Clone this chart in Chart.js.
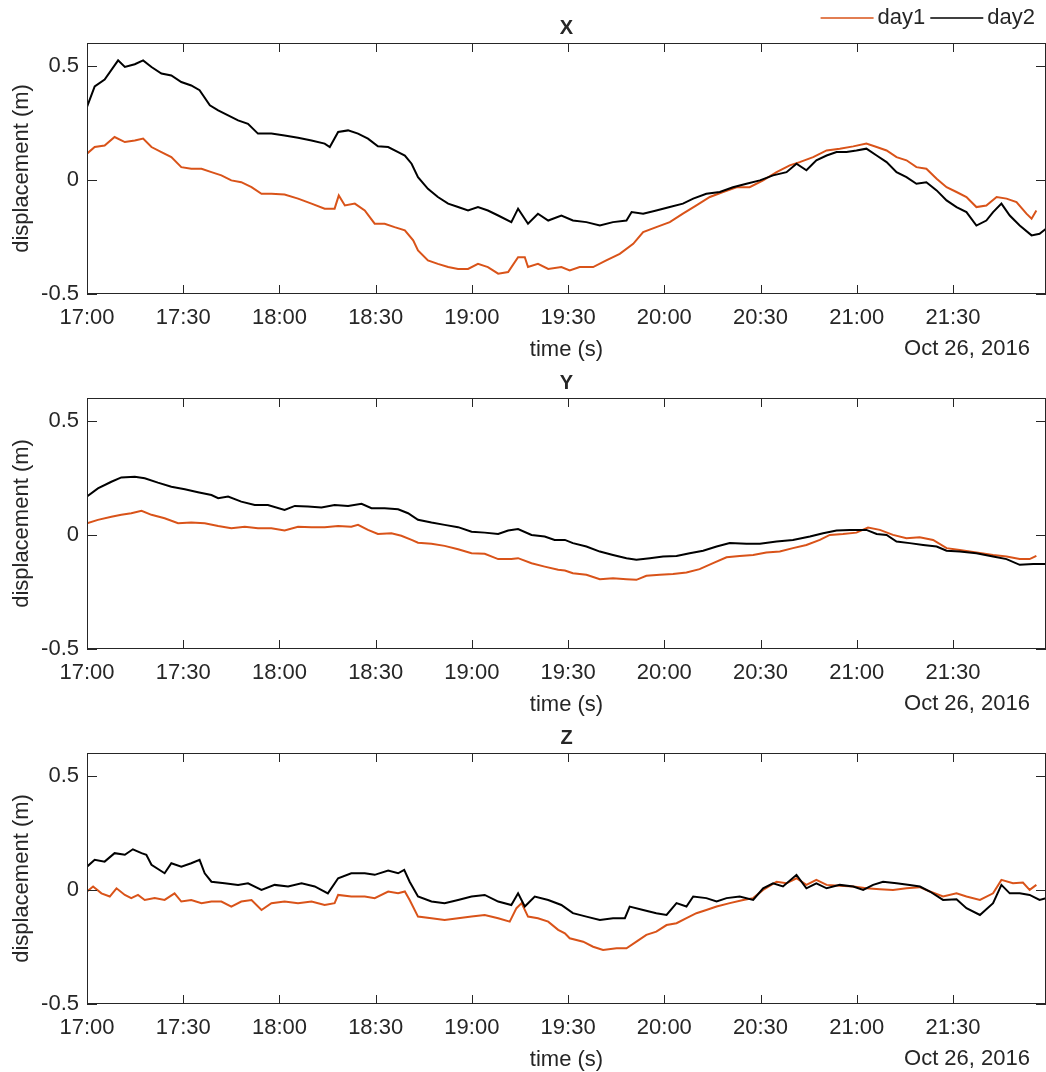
<!DOCTYPE html>
<html>
<head>
<meta charset="utf-8">
<script src="https://cdn.jsdelivr.net/npm/chart.js@4.4.0/dist/chart.umd.min.js"></script>
<style>
  html, body { margin: 0; padding: 0; background: #fff; overflow: hidden; }
  body { width: 1046px; height: 1072px; position: relative; }
  .panel { position: absolute; left: 0; width: 1046px; height: 363px; }
</style>
</head>
<body>
<div class="panel" style="top:0px"><canvas id="cX" width="1046" height="363"></canvas></div>
<div class="panel" style="top:355px"><canvas id="cY" width="1046" height="363"></canvas></div>
<div class="panel" style="top:710px"><canvas id="cZ" width="1046" height="363"></canvas></div>
<script>
// time is minutes after 17:00 on Oct 26, 2016
const xTicks = [0, 30, 60, 90, 120, 150, 180, 210, 240, 270];
const xTickLabels = ['17:00', '17:30', '18:00', '18:30', '19:00', '19:30', '20:00', '20:30', '21:00', '21:30'];
const yTicks = [-0.5, 0, 0.5];
const yTickLabels = ['-0.5', '0', '0.5'];
const dateLabel = 'Oct 26, 2016';
const seriesNames = ['day1', 'day2'];

// X displacement
const xDay1 = [[0,0.115],[2.4,0.144],[5.5,0.151],[8.6,0.188],[11.8,0.166],[14.9,0.173],[17.5,0.181],[20.1,0.144],[23.2,0.122],[26.3,0.1],[29.4,0.056],[32.5,0.049],[35.7,0.049],[38.8,0.034],[41.9,0.02],[45,-0.002],[48.1,-0.01],[51.3,-0.032],[54.4,-0.061],[57.5,-0.061],[61.6,-0.064],[65.8,-0.082],[70,-0.104],[74.1,-0.126],[77.2,-0.126],[78.5,-0.068],[80.4,-0.112],[83.5,-0.104],[86.6,-0.134],[89.7,-0.192],[92.8,-0.192],[95.9,-0.207],[99.1,-0.221],[101.7,-0.265],[103.2,-0.309],[106.3,-0.353],[109.4,-0.368],[112.6,-0.382],[115.7,-0.39],[118.8,-0.39],[121.9,-0.368],[125,-0.382],[128.2,-0.411],[131.3,-0.404],[134.4,-0.339],[136.5,-0.339],[137.5,-0.382],[140.6,-0.368],[143.8,-0.39],[147.9,-0.382],[150.5,-0.397],[153.6,-0.382],[157.8,-0.382],[161.9,-0.353],[166.1,-0.324],[170.3,-0.28],[173.4,-0.229],[177.5,-0.207],[181.7,-0.185],[185.8,-0.148],[190,-0.112],[194.2,-0.075],[198.3,-0.053],[202.5,-0.032],[206.6,-0.032],[210.8,-0.002],[215,0.034],[219.1,0.064],[222.2,0.078],[226.4,0.1],[230.6,0.129],[234.7,0.137],[238.9,0.147],[243,0.159],[246.2,0.144],[249.3,0.129],[252.4,0.1],[255.5,0.086],[258.6,0.056],[261.7,0.049],[264.9,0.005],[268,-0.032],[271.1,-0.053],[274.2,-0.075],[277.3,-0.119],[280.4,-0.112],[283.6,-0.075],[286.7,-0.082],[289.8,-0.097],[292.9,-0.148],[294.5,-0.17],[296,-0.134]];
const xDay2 = [[0,0.32],[2.4,0.41],[5.5,0.44],[9.7,0.524],[11.8,0.495],[14.9,0.507],[17.5,0.524],[20.1,0.495],[23.2,0.466],[26.3,0.458],[29.4,0.429],[32.5,0.414],[35.1,0.393],[38.3,0.327],[40.9,0.305],[44,0.283],[47.1,0.261],[50.2,0.246],[53.3,0.203],[57.5,0.203],[61.6,0.195],[65.8,0.185],[70,0.173],[74.1,0.159],[75.7,0.144],[78.3,0.21],[81.4,0.217],[84.5,0.203],[87.6,0.181],[90.7,0.147],[93.9,0.144],[97,0.122],[99.1,0.107],[101.2,0.071],[103.2,0.012],[106.3,-0.039],[109.4,-0.075],[112.6,-0.104],[115.7,-0.119],[118.8,-0.134],[121.9,-0.119],[125,-0.134],[128.2,-0.156],[132.3,-0.185],[134.4,-0.126],[137.5,-0.192],[140.6,-0.148],[143.8,-0.178],[147.9,-0.156],[151.5,-0.178],[155.7,-0.185],[159.9,-0.2],[164,-0.185],[168.2,-0.178],[169.8,-0.141],[173.4,-0.148],[177.5,-0.134],[181.7,-0.119],[185.8,-0.104],[189,-0.082],[193.1,-0.061],[197.3,-0.053],[201.4,-0.032],[205.6,-0.017],[209.8,-0.002],[213.9,0.02],[218.1,0.034],[221.2,0.071],[224.3,0.042],[227.4,0.086],[230.6,0.107],[233.7,0.122],[236.8,0.122],[239.9,0.129],[243,0.137],[246.2,0.107],[249.3,0.078],[252.4,0.034],[255.5,0.012],[258.6,-0.017],[261.7,-0.01],[264.9,-0.046],[268,-0.09],[271.1,-0.119],[274.2,-0.141],[277.3,-0.2],[280.4,-0.178],[282.5,-0.141],[285.1,-0.104],[287.7,-0.156],[290.8,-0.2],[294.5,-0.243],[297,-0.236],[299,-0.214]];

// Y displacement
const yDay1 = [[0,0.051],[3.4,0.066],[7.6,0.08],[10.7,0.088],[13.8,0.095],[17,0.106],[20.1,0.088],[24.2,0.073],[28.4,0.051],[32.5,0.054],[36.7,0.051],[40.9,0.039],[45,0.029],[49.2,0.036],[53.3,0.029],[57.5,0.029],[61.6,0.019],[65.8,0.036],[70,0.034],[74.1,0.034],[78.3,0.039],[82.4,0.036],[84.5,0.044],[87.6,0.022],[90.7,0.004],[94.9,0.007],[98,-0.004],[101.2,-0.022],[103.2,-0.034],[107.4,-0.039],[111.5,-0.048],[115.7,-0.063],[119.9,-0.08],[124,-0.083],[128.2,-0.106],[132.3,-0.106],[134.4,-0.102],[138.6,-0.124],[142.7,-0.139],[146.9,-0.153],[149,-0.156],[151.5,-0.168],[155.7,-0.175],[159.9,-0.194],[164,-0.19],[168.2,-0.194],[171.3,-0.197],[174.4,-0.179],[178.6,-0.175],[182.7,-0.171],[186.9,-0.165],[191,-0.15],[195.2,-0.124],[199.4,-0.098],[203.5,-0.092],[207.7,-0.088],[211.8,-0.077],[216,-0.073],[220.1,-0.058],[224.3,-0.044],[228.5,-0.022],[231.6,0],[235.7,0.004],[239.9,0.01],[243.5,0.032],[247.2,0.022],[251.3,0],[255.5,-0.015],[259.6,-0.01],[263.8,-0.022],[268,-0.058],[272.1,-0.066],[277.3,-0.077],[282.5,-0.088],[286.7,-0.095],[290.8,-0.106],[293.9,-0.106],[296,-0.092]];
const yDay2 = [[0,0.168],[3.4,0.204],[7.6,0.233],[10.7,0.252],[14.9,0.255],[18,0.248],[22.1,0.229],[26.3,0.211],[30.5,0.2],[34.6,0.187],[38.8,0.175],[40.9,0.161],[44,0.168],[48.1,0.146],[52.3,0.131],[56.4,0.131],[61.6,0.109],[64.8,0.127],[68.9,0.124],[73.1,0.12],[77.2,0.131],[81.4,0.127],[85.6,0.136],[88.7,0.117],[92.8,0.117],[97,0.112],[100.1,0.095],[103.2,0.066],[107.4,0.054],[111.5,0.044],[115.7,0.034],[119.9,0.014],[124,0.01],[128.2,0.004],[131.3,0.019],[134.4,0.026],[138.6,0],[142.7,-0.007],[145.8,-0.022],[149,-0.022],[151.5,-0.036],[155.7,-0.051],[159.9,-0.073],[164,-0.088],[168.2,-0.102],[171.3,-0.109],[175.5,-0.102],[179.6,-0.095],[183.8,-0.092],[187.9,-0.08],[192.1,-0.069],[196.3,-0.051],[200.4,-0.036],[205.6,-0.039],[209.8,-0.039],[215,-0.029],[220.1,-0.022],[225.4,-0.007],[229.5,0.007],[233.7,0.019],[237.8,0.022],[243,0.022],[246.2,0.004],[249.3,0],[252.4,-0.029],[256.5,-0.036],[260.7,-0.044],[264.9,-0.051],[268,-0.069],[272.1,-0.073],[277.3,-0.08],[282.5,-0.095],[286.7,-0.106],[290.8,-0.131],[295,-0.128],[299,-0.128]];

// Z displacement
const zDay1 = [[0,-0.007],[1.9,0.015],[4.5,-0.015],[7.1,-0.029],[9.2,0.007],[11.8,-0.022],[13.8,-0.036],[15.9,-0.022],[18,-0.044],[21.1,-0.036],[24.2,-0.044],[27.3,-0.015],[29.4,-0.051],[32.5,-0.044],[35.7,-0.058],[38.8,-0.051],[41.9,-0.051],[45,-0.073],[48.1,-0.051],[51.3,-0.044],[54.4,-0.088],[57.5,-0.058],[61.6,-0.051],[65.8,-0.058],[70,-0.051],[74.1,-0.066],[77.2,-0.058],[78.3,-0.022],[82.4,-0.029],[86.6,-0.029],[89.7,-0.036],[93.9,-0.007],[97,-0.015],[99.1,-0.007],[100.6,-0.044],[103.2,-0.117],[107.4,-0.124],[111.5,-0.132],[115.7,-0.124],[119.9,-0.117],[124,-0.11],[128.2,-0.124],[131.8,-0.139],[133.9,-0.08],[135.5,-0.058],[137.5,-0.117],[140.6,-0.124],[143.8,-0.139],[146.9,-0.175],[149,-0.19],[150.5,-0.212],[154.7,-0.227],[157.8,-0.249],[160.9,-0.263],[165.1,-0.256],[168.2,-0.256],[171.3,-0.227],[174.4,-0.197],[177.5,-0.183],[180.7,-0.154],[183.8,-0.146],[186.9,-0.124],[190,-0.102],[193.1,-0.088],[196.3,-0.073],[200.4,-0.058],[204.6,-0.044],[207.7,-0.036],[210.8,0],[215,0.036],[218.1,0.029],[221.2,0.051],[224.3,0.022],[227.4,0.044],[230.6,0.022],[234.7,0.018],[238.9,0.015],[243,0.007],[247.2,0.003],[251.3,0],[255.5,0.007],[259.6,0.012],[262.8,-0.007],[266.9,-0.029],[271.1,-0.015],[274.2,-0.029],[278.4,-0.044],[282.5,-0.015],[285.1,0.044],[288.7,0.029],[291.8,0.032],[293.9,0],[296,0.022]];
const zDay2 = [[0,0.102],[2.4,0.132],[5.5,0.124],[8.6,0.161],[11.8,0.154],[14.3,0.178],[17,0.161],[18.5,0.154],[20.1,0.11],[24.2,0.073],[26.3,0.117],[29.4,0.102],[32.5,0.117],[35.1,0.132],[36.7,0.073],[38.8,0.036],[42.9,0.029],[47.1,0.022],[50.2,0.029],[54.4,0],[58.5,0.022],[62.7,0.015],[66.9,0.029],[71,0.015],[75.1,-0.015],[78.3,0.051],[82.4,0.073],[86.6,0.073],[89.7,0.066],[93.9,0.085],[97,0.073],[98.9,0.088],[100.6,0.036],[103.2,-0.029],[107.4,-0.051],[111.5,-0.058],[115.7,-0.044],[119.9,-0.029],[124,-0.022],[128.2,-0.051],[132.3,-0.066],[134.4,-0.015],[136.5,-0.073],[139.6,-0.029],[143.8,-0.044],[147.9,-0.066],[151.5,-0.102],[155.7,-0.117],[159.9,-0.132],[164,-0.124],[167.7,-0.124],[169.2,-0.073],[173.4,-0.088],[177.5,-0.102],[180.7,-0.11],[183.8,-0.058],[186.9,-0.073],[189,-0.029],[193.1,-0.036],[196.3,-0.051],[199.4,-0.036],[203.5,-0.029],[207.7,-0.044],[210.8,0.007],[213.9,0.029],[217,0.015],[221.2,0.066],[224.3,0.007],[227.4,0.029],[230.6,0.007],[234.7,0.022],[238.9,0.015],[242,0],[245.1,0.022],[248.2,0.036],[252.4,0.029],[256.5,0.022],[259.7,0.015],[262.8,-0.007],[266.9,-0.044],[271.1,-0.041],[274.2,-0.08],[278.4,-0.11],[282.5,-0.058],[285.1,0.022],[287.7,-0.015],[290.8,-0.015],[293.9,-0.022],[297,-0.044],[299,-0.036]];

const xMax = 299;
const yMin = -0.5, yMax = 0.6;
const day1Color = '#D95319';
const day2Color = '#000000';
const axisColor = '#262626';
const fontFamily = "'Liberation Sans', Arial, Helvetica, sans-serif";

Chart.defaults.font.family = fontFamily;
Chart.defaults.font.size = 22;
Chart.defaults.color = axisColor;

function toXY(pairs) {
  return pairs.map(p => ({ x: p[0], y: p[1] }));
}

// box, inward ticks on all four sides, panel title, date note and legend
const matlabAxes = {
  id: 'matlabAxes',
  afterDatasetsDraw(chart, args, opts) {
    const { ctx, chartArea: a, scales: { x, y } } = chart;
    ctx.save();
    ctx.strokeStyle = axisColor;
    ctx.lineWidth = 1;
    ctx.strokeRect(a.left + 0.5, a.top + 0.5, a.width - 1, a.height - 1);
    ctx.beginPath();
    xTicks.forEach(t => {
      const px = Math.round(x.getPixelForValue(t)) + 0.5;
      ctx.moveTo(px, a.bottom); ctx.lineTo(px, a.bottom - 9);
      ctx.moveTo(px, a.top); ctx.lineTo(px, a.top + 9);
    });
    yTicks.forEach(v => {
      const py = Math.round(y.getPixelForValue(v)) + 0.5;
      ctx.moveTo(a.left, py); ctx.lineTo(a.left + 10, py);
      ctx.moveTo(a.right, py); ctx.lineTo(a.right - 10, py);
    });
    ctx.stroke();

    ctx.fillStyle = axisColor;
    ctx.textBaseline = 'middle';
    ctx.textAlign = 'center';
    ctx.font = 'bold 20px ' + fontFamily;
    ctx.fillText(opts.title, (a.left + a.right) / 2, a.top - 15);

    ctx.font = '22px ' + fontFamily;
    ctx.textAlign = 'right';
    ctx.fillText(dateLabel, a.right - 16, a.bottom + 55);

    if (opts.legend) {
      ctx.textAlign = 'left';
      let xr = a.right - 11;
      const ly = 18;
      chart.data.datasets.slice().reverse().forEach(ds => {
        const w = ctx.measureText(ds.label).width;
        const tx = xr - w;
        ctx.fillStyle = axisColor;
        ctx.fillText(ds.label, tx, ly);
        ctx.strokeStyle = ds.borderColor;
        ctx.lineWidth = 1.5;
        ctx.beginPath();
        ctx.moveTo(tx - 57, ly); ctx.lineTo(tx - 4, ly);
        ctx.stroke();
        xr = tx - 62;
      });
    }
    ctx.restore();
  }
};

function makePanel(id, title, day1, day2, showLegend) {
  new Chart(document.getElementById(id), {
    type: 'line',
    data: {
      datasets: [
        { label: seriesNames[0], data: toXY(day1), borderColor: day1Color, borderWidth: 2, pointRadius: 0, order: 2 },
        { label: seriesNames[1], data: toXY(day2), borderColor: day2Color, borderWidth: 2, pointRadius: 0, order: 1 }
      ]
    },
    options: {
      responsive: false,
      animation: false,
      events: [],
      layout: { padding: { top: 43, left: 0, right: 0, bottom: 0 } },
      plugins: {
        legend: { display: false },
        tooltip: { enabled: false },
        matlabAxes: { title: title, legend: showLegend }
      },
      scales: {
        x: {
          type: 'linear',
          min: 0,
          max: xMax,
          afterBuildTicks: s => { s.ticks = xTicks.map(v => ({ value: v })); },
          afterFit: s => { s.height = 69; },
          grid: { display: false, drawTicks: false },
          border: { display: false },
          ticks: { padding: 11, maxRotation: 0, autoSkip: false, callback: (v, i) => xTickLabels[i] },
          title: { display: true, text: 'time (s)', padding: { top: 0, bottom: 0 } }
        },
        y: {
          min: yMin,
          max: yMax,
          afterBuildTicks: s => { s.ticks = yTicks.map(v => ({ value: v })); },
          afterFit: s => { s.width = 87; },
          grid: { display: false, drawTicks: false },
          border: { display: false },
          ticks: { padding: 8, callback: (v, i) => yTickLabels[i] },
          title: { display: true, text: 'displacement (m)', padding: { top: 9, bottom: 0 } }
        }
      }
    },
    plugins: [matlabAxes]
  });
}

makePanel('cX', 'X', xDay1, xDay2, true);
makePanel('cY', 'Y', yDay1, yDay2, false);
makePanel('cZ', 'Z', zDay1, zDay2, false);
</script>
</body>
</html>
